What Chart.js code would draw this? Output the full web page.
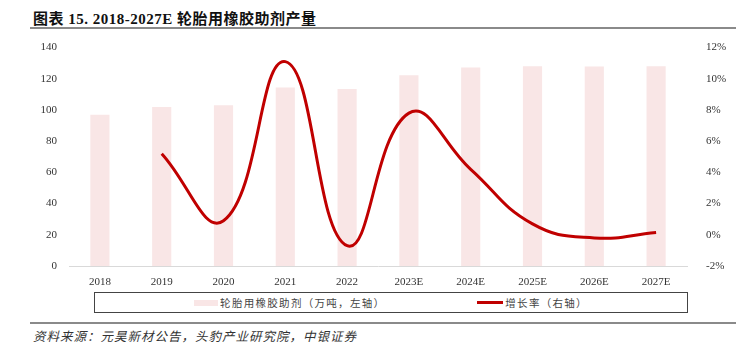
<!DOCTYPE html>
<html>
<head>
<meta charset="utf-8">
<script src="https://cdn.jsdelivr.net/npm/chart.js@4"></script>
<style>
  body { margin: 0; width: 736px; height: 352px; background: #fff; position: relative; overflow: hidden; }
  #title { position: absolute; left: 33px; top: 7px; font: bold 15px "Liberation Serif", "Noto Sans CJK SC", serif; color: #111; letter-spacing: 0.5px; }
  .rule { position: absolute; left: 30px; width: 706px; height: 2px; background: #8a8a8a; }
  #wrap { position: absolute; left: 0; top: 30px; width: 736px; height: 260px; }
  #legend { position: absolute; left: 94px; top: 292px; width: 592px; height: 19px; border: 1px solid #444;
            display: flex; justify-content: center; align-items: center; gap: 92px;
            font: 10.5px "Noto Sans CJK SC", sans-serif; color: #444; letter-spacing: 1.3px; }
  .item { display: flex; align-items: center; }
  .sw { display: inline-block; margin-right: 2px; }
  #source { position: absolute; left: 33px; top: 326px; font: italic 12.5px "Noto Sans CJK SC", sans-serif; color: #333; letter-spacing: 1px; }
</style>
</head>
<body>
<div id="title">图表 15. 2018-2027E 轮胎用橡胶助剂产量</div>
<div class="rule" style="top:27px"></div>
<div id="wrap"><canvas id="chart" width="736" height="260"></canvas></div>
<div id="legend"></div>
<div class="rule" style="top:322px"></div>
<div id="source">资料来源：元昊新材公告，头豹产业研究院，中银证券</div>
<script>
const years = ["2018", "2019", "2020", "2021", "2022", "2023E", "2024E", "2025E", "2026E", "2027E"];
const output = [97, 102, 103, 114.4, 113.4, 122.2, 127.3, 128.1, 127.9, 128.1];
const growth = [null, 5.2, 0.9, 11.1, -0.7, 7.8, 4.2, 0.7, -0.2, 0.15];
const leftTicks = [0, 20, 40, 60, 80, 100, 120, 140];
const rightTicks = [-2, 0, 2, 4, 6, 8, 10, 12];

const barColor = '#F9E6E6';
const lineColor = '#C00000';
const tickFont = { family: 'Liberation Serif', size: 11 };

const chart = new Chart(document.getElementById('chart'), {
    type: 'bar',
    data: {
        labels: years,
        datasets: [{
            type: 'bar',
            label: '轮胎用橡胶助剂（万吨，左轴）',
            data: output,
            backgroundColor: barColor,
            yAxisID: 'y',
            barPercentage: 0.62,
            categoryPercentage: 0.5,
            order: 2
        }, {
            type: 'line',
            label: '增长率（右轴）',
            data: growth,
            borderColor: lineColor,
            borderWidth: 3,
            pointRadius: 0,
            tension: 0.45,
            yAxisID: 'y1',
            order: 1
        }]
    },
    options: {
        responsive: false,
        animation: false,
        devicePixelRatio: 1,
        layout: { padding: { top: 5, left: 0, right: 0, bottom: 0 } },
        plugins: { legend: { display: false }, tooltip: { enabled: false } },
        scales: {
            x: {
                grid: { display: false },
                border: { color: '#d9d9d9', width: 1 },
                ticks: { font: tickFont, color: '#333', padding: 2 },
                afterFit: s => { s.height = 24; }
            },
            y: {
                position: 'left',
                min: 0, max: 140,
                afterBuildTicks: s => { s.ticks = leftTicks.map(v => ({ value: v })); },
                grid: { display: false },
                border: { display: false },
                ticks: { font: tickFont, color: '#333', padding: 4 },
                afterFit: s => { s.width = 69; }
            },
            y1: {
                position: 'right',
                min: -2, max: 12,
                afterBuildTicks: s => { s.ticks = rightTicks.map(v => ({ value: v })); },
                grid: { display: false },
                border: { display: false },
                ticks: { font: tickFont, color: '#333', padding: 11, callback: v => v + '%' },
                afterFit: s => { s.width = 49; }
            }
        }
    }
});

// legend built from the datasets
const legend = document.getElementById('legend');
chart.data.datasets.forEach(ds => {
    const item = document.createElement('span');
    item.className = 'item';
    const sw = document.createElement('span');
    sw.className = 'sw';
    if (ds.type === 'bar') {
        sw.style.cssText = 'width:24px;height:6px;background:' + ds.backgroundColor;
    } else {
        sw.style.cssText = 'width:26px;height:3px;background:' + ds.borderColor;
    }
    item.appendChild(sw);
    item.appendChild(document.createTextNode(ds.label));
    legend.appendChild(item);
});
</script>
</body>
</html>
